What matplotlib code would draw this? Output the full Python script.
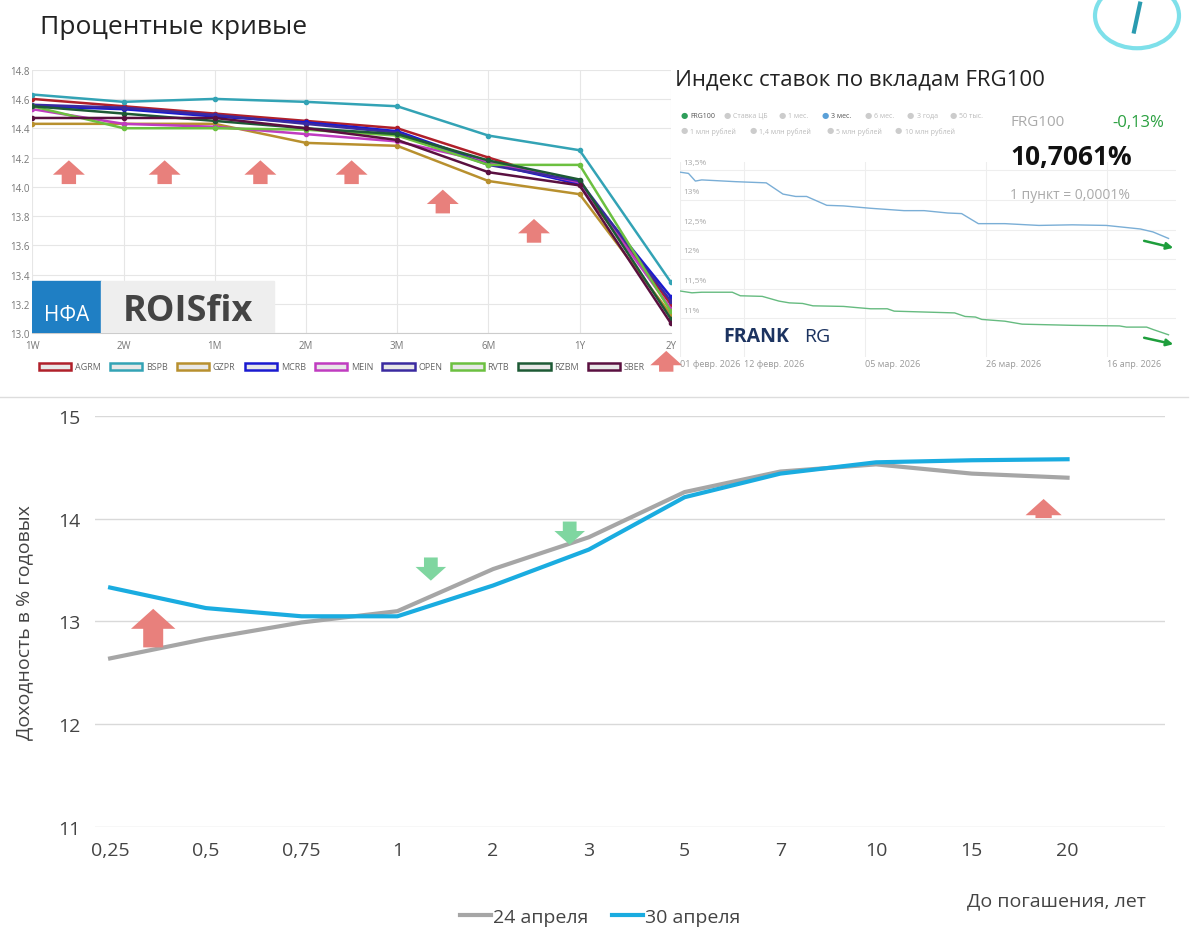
import matplotlib.pyplot as plt
from matplotlib.patches import Patch, Rectangle, Circle
from matplotlib.lines import Line2D
import numpy as np

# ---- top-left: ROISfix curves ----
tenors = ['1W', '2W', '1M', '2M', '3M', '6M', '1Y', '2Y']
banks = ['AGRM', 'BSPB', 'GZPR', 'MCRB', 'MEIN', 'OPEN', 'RVTB', 'RZBM', 'SBER']
bank_colors = ['#b0202a', '#33a3b5', '#b8902e', '#1a1ad0', '#c03cc0', '#3a2aa0', '#6cc040', '#1d5a35', '#5a1040']
agrm = [14.60, 14.55, 14.50, 14.45, 14.40, 14.20, 14.01, 13.20]
bspb = [14.63, 14.58, 14.60, 14.58, 14.55, 14.35, 14.25, 13.35]
gzpr = [14.43, 14.43, 14.43, 14.30, 14.28, 14.04, 13.95, 13.13]
mcrb = [14.55, 14.53, 14.48, 14.44, 14.38, 14.16, 14.02, 13.25]
mein = [14.53, 14.43, 14.41, 14.36, 14.31, 14.17, 14.03, 13.17]
open_ = [14.56, 14.54, 14.49, 14.43, 14.37, 14.15, 14.04, 13.22]
rvtb = [14.55, 14.40, 14.40, 14.39, 14.35, 14.15, 14.15, 13.15]
rzbm = [14.55, 14.50, 14.45, 14.40, 14.36, 14.18, 14.05, 13.10]
sber = [14.47, 14.47, 14.47, 14.40, 14.32, 14.10, 14.01, 13.07]
bank_vals = [agrm, bspb, gzpr, mcrb, mein, open_, rvtb, rzbm, sber]

# ---- top-right: FRG100 ----
blue_days = [0, 1.4, 2.6, 3.7, 9.6, 14.9, 17.8, 20, 21.9, 25.4, 28.3, 33, 38.8, 42.3, 46.4, 48.8,
             51.7, 56.3, 62.2, 68, 73.9, 79.8, 82, 84.7]
blue_vals = [13.47, 13.45, 13.32, 13.34, 13.31, 13.29, 13.10, 13.06, 13.06, 12.91, 12.90, 12.86,
             12.82, 12.82, 12.78, 12.77, 12.60, 12.60, 12.57, 12.58, 12.57, 12.51, 12.46, 12.35]
green_days = [0, 2, 3.7, 9, 10.4, 14.2, 17.1, 18.9, 21.2, 23, 28.3, 30.6, 33, 35.9, 37.1, 47.6,
              49.4, 51.2, 52.3, 56.3, 59.3, 68, 76.2, 77.4, 80.9, 82, 84.7]
green_vals = [11.46, 11.43, 11.44, 11.44, 11.38, 11.37, 11.29, 11.26, 11.25, 11.21, 11.20, 11.18,
              11.16, 11.16, 11.12, 11.09, 11.03, 11.02, 10.98, 10.95, 10.90, 10.88, 10.87, 10.85,
              10.85, 10.81, 10.72]
date_ticks = [0, 11, 32, 53, 74]
date_labels = ['01 февр. 2026', '12 февр. 2026', '05 мар. 2026', '26 мар. 2026', '16 апр. 2026']

# ---- bottom: OFZ curve ----
maturities = ['0,25', '0,5', '0,75', '1', '2', '3', '5', '7', '10', '15', '20']
apr24 = [12.64, 12.83, 12.99, 13.10, 13.51, 13.82, 14.26, 14.46, 14.53, 14.44, 14.40]
apr30 = [13.33, 13.13, 13.05, 13.05, 13.35, 13.70, 14.21, 14.44, 14.55, 14.57, 14.58]

plt.rcParams['font.family'] = ['Open Sans', 'DejaVu Sans']
fig = plt.figure(figsize=(12, 9.29), dpi=100)

RED = '#e8807c'
GRN = '#7fd6a0'

def block_arrow(ax, x, y0, y1, w, color):
    ax.annotate('', xy=(x, y1), xytext=(x, y0), annotation_clip=False,
                arrowprops=dict(arrowstyle='simple,head_width=%g,head_length=%g,tail_width=%g' % (w, w * 0.45, w * 0.45),
                                color=color, lw=0))

# top-left
ax1 = fig.add_axes([0.027, 0.640, 0.532, 0.284])
for name, vals, c in zip(banks, bank_vals, bank_colors):
    ax1.plot(range(len(tenors)), vals, color=c, lw=1.8, marker='o', ms=3)
ax1.set_xlim(0, 7)
ax1.set_ylim(13.0, 14.8)
ax1.set_yticks(np.arange(13.0, 14.81, 0.2))
ax1.set_yticklabels(['%.1f' % v for v in np.arange(13.0, 14.81, 0.2)])
ax1.set_xticks(range(len(tenors)))
ax1.set_xticklabels(tenors)
ax1.tick_params(labelsize=7, colors='#777777', length=0, pad=2)
ax1.tick_params(axis='x', pad=5)
ax1.grid(color='#e6e6e6', lw=0.8)
for s in ax1.spines.values():
    s.set_visible(False)
ax1.spines['bottom'].set_visible(True)
ax1.spines['bottom'].set_color('#cccccc')
for x, y in [(0.4, 14.0), (1.45, 14.0), (2.5, 14.0), (3.5, 14.0), (4.5, 13.8), (5.5, 13.6)]:
    block_arrow(ax1, x, y, y + 0.2, 2.3, RED)
block_arrow(ax1, 6.95, 12.72, 12.9, 2.3, RED)
ax1.add_patch(Rectangle((0, 13.0), 0.75, 0.36, color='#1f7fc4', zorder=5))
ax1.add_patch(Rectangle((0.75, 13.0), 1.9, 0.36, color='#eeeeee', zorder=5))
ax1.text(0.375, 13.13, 'НФА', color='white', fontsize=15, ha='center', va='center', zorder=6)
ax1.text(1.7, 13.15, 'ROISfix', color='#444444', fontsize=26, fontweight='bold', ha='center', va='center', zorder=6)
handles = [Patch(facecolor='#e8e8e8', edgecolor=c, lw=1.8, label=b) for b, c in zip(banks, bank_colors)]
fig.legend(handles=handles, loc='center', bbox_to_anchor=(0.285, 0.604), ncol=9, fontsize=6.5, frameon=False,
           handlelength=3.6, handleheight=0.9, columnspacing=1.0, handletextpad=0.4, labelcolor='#666666')

# top-right
ax2 = fig.add_axes([0.567, 0.615, 0.413, 0.21])
ax2.plot(blue_days, blue_vals, color='#7aaed6', lw=1)
ax2.plot(green_days, green_vals, color='#66bb80', lw=1)
ax2.set_xlim(0, 86)
ax2.set_ylim(10.35, 13.65)
ax2.set_yticks([11, 11.5, 12, 12.5, 13, 13.5])
ax2.set_yticklabels([])
for v, t in zip([11, 11.5, 12, 12.5, 13, 13.5], ['11%', '11,5%', '12%', '12,5%', '13%', '13,5%']):
    ax2.text(0.5, v + 0.08, t, fontsize=6, color='#aaaaaa', va='bottom')
ax2.set_xticks(date_ticks)
ax2.set_xticklabels(date_labels, ha='left')
ax2.tick_params(labelsize=6.5, colors='#999999', length=0, pad=2)
ax2.grid(color='#eeeeee', lw=0.8)
for s in ax2.spines.values():
    s.set_visible(False)
ax2.annotate('', xy=(86, 12.18), xytext=(80, 12.32), annotation_clip=False,
             arrowprops=dict(arrowstyle='-|>', color='#1e9e3c', lw=1.8))
ax2.annotate('', xy=(86, 10.55), xytext=(80, 10.68), annotation_clip=False,
             arrowprops=dict(arrowstyle='-|>', color='#1e9e3c', lw=1.8))
ax2.text(7.5, 10.7, 'FRANK', fontsize=14, fontweight='bold', color='#1c3360', va='center')
ax2.text(21.5, 10.7, 'RG', fontsize=14, color='#1c3360', va='center')

fig.text(0.5625, 0.914, 'Индекс ставок по вкладам FRG100', fontsize=16, color='#222222', va='center')
legend_row1 = [('FRG100', '#2e9e5a'), ('Ставка ЦБ', '#cccccc'), ('1 мес.', '#cccccc'), ('3 мес.', '#5aa0d8'),
               ('6 мес.', '#cccccc'), ('3 года', '#cccccc'), ('50 тыс.', '#cccccc')]
legend_row2 = [('1 млн рублей', '#cccccc'), ('1,4 млн рублей', '#cccccc'), ('5 млн рублей', '#cccccc'),
               ('10 млн рублей', '#cccccc')]
for row, yy in [(legend_row1, 0.875), (legend_row2, 0.858)]:
    xx = 0.567
    for lab, c in row:
        fig.text(xx, yy, '●', color=c, fontsize=6, va='center')
        fig.text(xx + 0.008, yy, lab, color='#555555' if c != '#cccccc' else '#bbbbbb', fontsize=5, va='center')
        xx += 0.010 + 0.0036 * len(lab) + 0.004
fig.text(0.842, 0.868, 'FRG100', fontsize=11, color='#aaaaaa', va='center')
fig.text(0.970, 0.868, '-0,13%', fontsize=12, color='#2aa040', va='center', ha='right')
fig.text(0.842, 0.830, '10,7061%', fontsize=19, fontweight='bold', color='#111111', va='center')
fig.text(0.842, 0.790, '1 пункт = 0,0001%', fontsize=10, color='#aaaaaa', va='center')

fig.text(0.033, 0.970, 'Процентные кривые', fontsize=19, color='#222222', va='center')
fig.add_artist(Circle((0.9475, 0.982), 0.035, transform=fig.transFigure, fill=False, ec='#7ee0ea', lw=3,
                      clip_on=False))
fig.add_artist(Line2D([0.95, 0.945], [0.995, 0.965], color='#2a9bb0', lw=3))
fig.add_artist(Line2D([0.0, 0.99], [0.572, 0.572], color='#dddddd', lw=1))

# bottom
ax3 = fig.add_axes([0.079, 0.109, 0.892, 0.442])
xs = np.arange(len(maturities))
ax3.plot(xs, apr24, color='#a6a6a6', lw=3, label='24 апреля')
ax3.plot(xs, apr30, color='#1aace0', lw=3, label='30 апреля')
ax3.set_xlim(-0.16, 11.02)
ax3.set_ylim(11, 15)
ax3.set_yticks([11, 12, 13, 14, 15])
ax3.set_xticks(xs)
ax3.set_xticklabels(maturities)
ax3.tick_params(labelsize=14, colors='#444444', length=0, pad=10)
ax3.grid(axis='y', color='#d9d9d9', lw=1)
for s in ax3.spines.values():
    s.set_visible(False)
ax3.set_ylabel('Доходность в % годовых', fontsize=14, color='#444444', labelpad=18)
block_arrow(ax3, 0.45, 12.72, 13.15, 3.2, RED)
block_arrow(ax3, 9.75, 13.98, 14.22, 2.6, RED)
for x, y0 in [(3.35, 13.65), (4.8, 14.0)]:
    block_arrow(ax3, x, y0, y0 - 0.28, 2.2, GRN)
fig.text(0.955, 0.030, 'До погашения, лет', fontsize=14, color='#444444', ha='right', va='center')
fig.legend(loc='center', bbox_to_anchor=(0.50, 0.012), ncol=2, fontsize=14, frameon=False,
           handlelength=1.6, columnspacing=1.2, handletextpad=0.1, labelcolor='#444444')

fig.savefig('out.png', dpi=100, facecolor='white')
